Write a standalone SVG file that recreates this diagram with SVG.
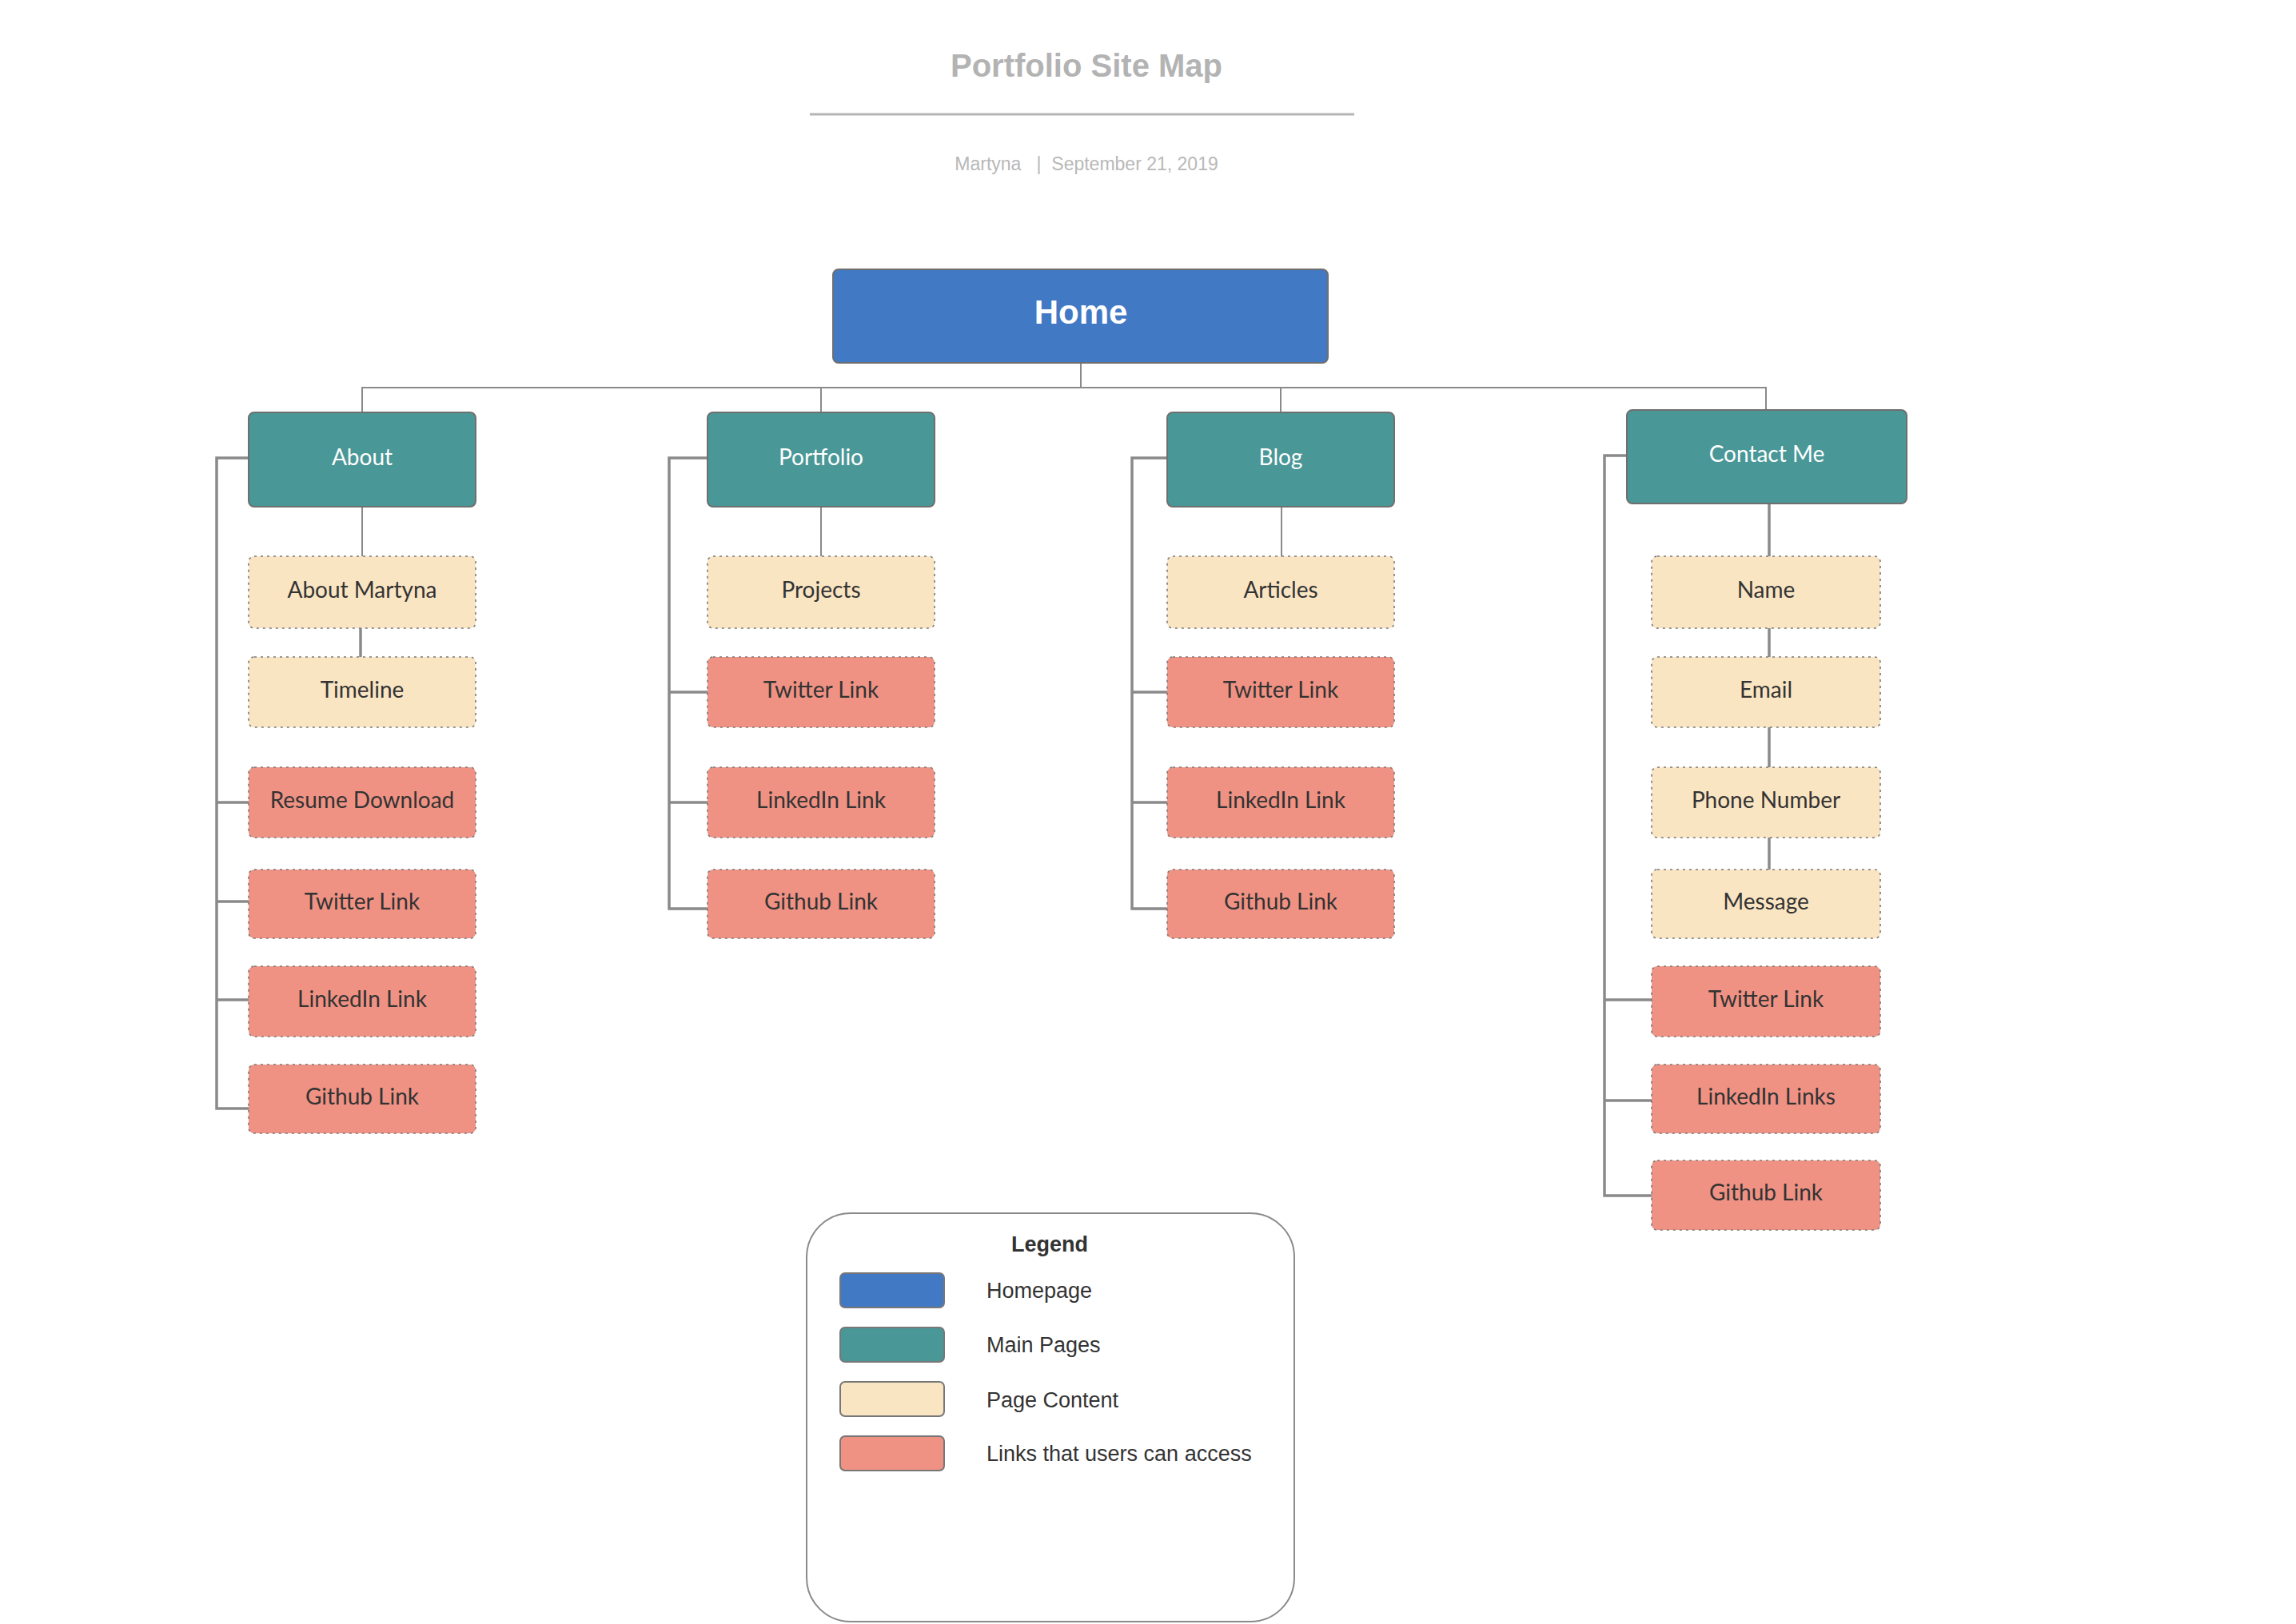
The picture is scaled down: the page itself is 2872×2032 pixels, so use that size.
<svg xmlns="http://www.w3.org/2000/svg" width="2872" height="2032" viewBox="0 0 2872 2032">
<style>
.bg{fill:#ffffff}
.home{fill:#4279c4;stroke:#6f6f6f;stroke-width:2}
.main{fill:#4a9797;stroke:#6f6f6f;stroke-width:2}
.content{fill:#fae5c3;stroke:#7a7a7a;stroke-width:1.6;stroke-dasharray:3 5}
.link{fill:#f09283;stroke:#7a7a7a;stroke-width:1.6;stroke-dasharray:3 5}
.lbl{font-family:Lato,"Liberation Sans",sans-serif;font-size:28px;fill:#333333;text-anchor:middle}
.mlbl{font-family:Lato,"Liberation Sans",sans-serif;font-size:28px;fill:#ffffff;text-anchor:middle}
.conn{fill:none;stroke:#8a8a8a;stroke-width:2}
.br{fill:none;stroke:#8a8a8a;stroke-width:3.5}
.leg{font-family:"Liberation Sans",Arial,sans-serif;font-size:27px;fill:#333333}
.sw{stroke:#777;stroke-width:2}
</style>
<rect class="bg" x="0" y="0" width="2872" height="2032"/>

<g id="header">
<text x="1359" y="96" font-family="'Liberation Sans',Arial,sans-serif" font-size="40" font-weight="bold" fill="#b3b3b3" text-anchor="middle">Portfolio Site Map</text>
<line x1="1013" y1="143" x2="1694" y2="143" stroke="#b5b5b5" stroke-width="3"/>
<text x="1359" y="213" font-family="'Liberation Sans',Arial,sans-serif" font-size="23" fill="#b8b8b8" text-anchor="middle" xml:space="preserve">Martyna   |  September 21, 2019</text>
</g>

<g id="connectors">
<path class="conn" d="M1352 454 V485"/>
<path class="conn" d="M453 516 V485 H2209 V513"/>
<path class="conn" d="M1027 485 V516"/>
<path class="conn" d="M1602 485 V516"/>
<path class="conn" d="M453 634 V696"/>
<path class="br" d="M451 786 V822"/>
<path class="conn" d="M1027 634 V696"/>
<path class="conn" d="M1603 634 V696"/>
<path class="br" d="M2213 630 V696"/>
<path class="br" d="M2213 786 V822"/>
<path class="br" d="M2213 910 V960"/>
<path class="br" d="M2213 1048 V1088"/>
<path class="br" d="M311 573 H271 V1387 H311"/>
<path class="br" d="M271 1004 H311"/>
<path class="br" d="M271 1128 H311"/>
<path class="br" d="M271 1251 H311"/>
<path class="br" d="M885 573 H837 V1137 H885"/>
<path class="br" d="M837 866 H885"/>
<path class="br" d="M837 1004 H885"/>
<path class="br" d="M1460 573 H1416 V1137 H1460"/>
<path class="br" d="M1416 866 H1460"/>
<path class="br" d="M1416 1004 H1460"/>
<path class="br" d="M2035 570 H2007 V1496 H2066"/>
<path class="br" d="M2007 1251 H2066"/>
<path class="br" d="M2007 1377 H2066"/>
</g>

<g id="home">
<rect class="home" x="1042" y="337" width="619" height="117" rx="7"/>
<text x="1352" y="405" font-family="'Liberation Sans',Arial,sans-serif" font-size="42" font-weight="bold" fill="#ffffff" text-anchor="middle">Home</text>
</g>

<g id="about"><rect class="main" x="311" y="516" width="284" height="118" rx="7"/><text class="mlbl" x="453" y="582">About</text></g>
<g id="portfolio"><rect class="main" x="885" y="516" width="284" height="118" rx="7"/><text class="mlbl" x="1027" y="582">Portfolio</text></g>
<g id="blog"><rect class="main" x="1460" y="516" width="284" height="118" rx="7"/><text class="mlbl" x="1602" y="582">Blog</text></g>
<g id="contact"><rect class="main" x="2035" y="513" width="350" height="117" rx="7"/><text class="mlbl" x="2210" y="578">Contact Me</text></g>

<g id="about-martyna"><rect class="content" x="311" y="696" width="284" height="90" rx="7"/><text class="lbl" x="453" y="748">About Martyna</text></g>
<g id="about-timeline"><rect class="content" x="311" y="822" width="284" height="88" rx="7"/><text class="lbl" x="453" y="873">Timeline</text></g>
<g id="about-resume"><rect class="link" x="311" y="960" width="284" height="88" rx="7"/><text class="lbl" x="453" y="1011">Resume Download</text></g>
<g id="about-twitter"><rect class="link" x="311" y="1088" width="284" height="86" rx="7"/><text class="lbl" x="453" y="1138">Twitter Link</text></g>
<g id="about-linkedin"><rect class="link" x="311" y="1209" width="284" height="88" rx="7"/><text class="lbl" x="453" y="1260">LinkedIn Link</text></g>
<g id="about-github"><rect class="link" x="311" y="1332" width="284" height="86" rx="7"/><text class="lbl" x="453" y="1382">Github Link</text></g>

<g id="portfolio-projects"><rect class="content" x="885" y="696" width="284" height="90" rx="7"/><text class="lbl" x="1027" y="748">Projects</text></g>
<g id="portfolio-twitter"><rect class="link" x="885" y="822" width="284" height="88" rx="7"/><text class="lbl" x="1027" y="873">Twitter Link</text></g>
<g id="portfolio-linkedin"><rect class="link" x="885" y="960" width="284" height="88" rx="7"/><text class="lbl" x="1027" y="1011">LinkedIn Link</text></g>
<g id="portfolio-github"><rect class="link" x="885" y="1088" width="284" height="86" rx="7"/><text class="lbl" x="1027" y="1138">Github Link</text></g>

<g id="blog-articles"><rect class="content" x="1460" y="696" width="284" height="90" rx="7"/><text class="lbl" x="1602" y="748">Articles</text></g>
<g id="blog-twitter"><rect class="link" x="1460" y="822" width="284" height="88" rx="7"/><text class="lbl" x="1602" y="873">Twitter Link</text></g>
<g id="blog-linkedin"><rect class="link" x="1460" y="960" width="284" height="88" rx="7"/><text class="lbl" x="1602" y="1011">LinkedIn Link</text></g>
<g id="blog-github"><rect class="link" x="1460" y="1088" width="284" height="86" rx="7"/><text class="lbl" x="1602" y="1138">Github Link</text></g>

<g id="contact-name"><rect class="content" x="2066" y="696" width="286" height="90" rx="7"/><text class="lbl" x="2209" y="748">Name</text></g>
<g id="contact-email"><rect class="content" x="2066" y="822" width="286" height="88" rx="7"/><text class="lbl" x="2209" y="873">Email</text></g>
<g id="contact-phone"><rect class="content" x="2066" y="960" width="286" height="88" rx="7"/><text class="lbl" x="2209" y="1011">Phone Number</text></g>
<g id="contact-message"><rect class="content" x="2066" y="1088" width="286" height="86" rx="7"/><text class="lbl" x="2209" y="1138">Message</text></g>
<g id="contact-twitter"><rect class="link" x="2066" y="1209" width="286" height="88" rx="7"/><text class="lbl" x="2209" y="1260">Twitter Link</text></g>
<g id="contact-linkedin"><rect class="link" x="2066" y="1332" width="286" height="86" rx="7"/><text class="lbl" x="2209" y="1382">LinkedIn Links</text></g>
<g id="contact-github"><rect class="link" x="2066" y="1452" width="286" height="87" rx="7"/><text class="lbl" x="2209" y="1502">Github Link</text></g>

<g id="legend">
<rect x="1009" y="1518" width="610" height="511" rx="55" fill="#ffffff" stroke="#8a8a8a" stroke-width="2"/>
<text x="1313" y="1566" font-family="'Liberation Sans',Arial,sans-serif" font-size="27" font-weight="bold" fill="#333333" text-anchor="middle">Legend</text>
<rect class="sw" x="1051" y="1593" width="130" height="43" rx="6" fill="#4279c4"/>
<text class="leg" x="1234" y="1624">Homepage</text>
<rect class="sw" x="1051" y="1661" width="130" height="43" rx="6" fill="#4a9797"/>
<text class="leg" x="1234" y="1692">Main Pages</text>
<rect class="sw" x="1051" y="1729" width="130" height="43" rx="6" fill="#fae5c3"/>
<text class="leg" x="1234" y="1761">Page Content</text>
<rect class="sw" x="1051" y="1797" width="130" height="43" rx="6" fill="#f09283"/>
<text class="leg" x="1234" y="1828">Links that users can access</text>
</g>
</svg>
